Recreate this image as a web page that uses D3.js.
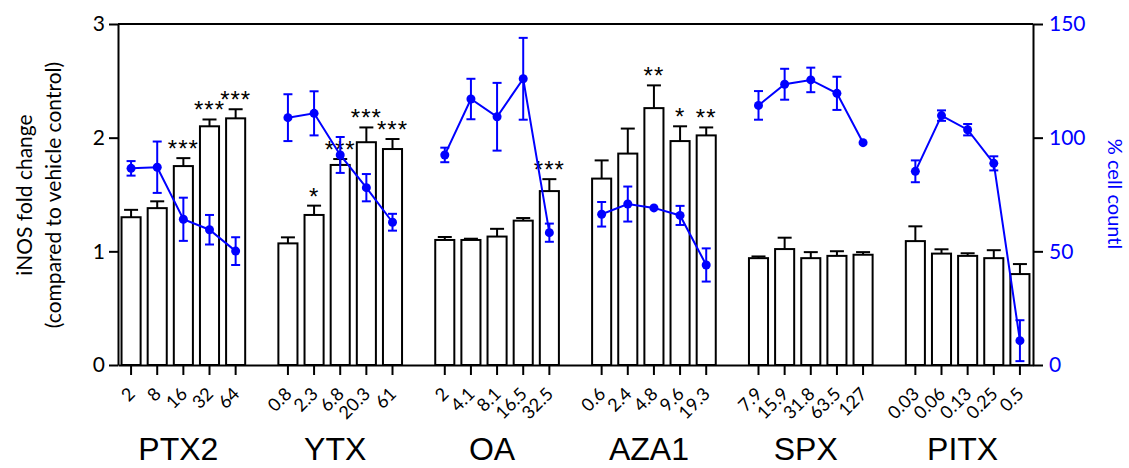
<!DOCTYPE html>
<html><head><meta charset="utf-8">
<script src="https://cdn.jsdelivr.net/npm/d3@7"></script>
<style>body{margin:0;background:#fff}svg{display:block}</style>
</head><body>
<svg id="c" width="1129" height="468"></svg>
<script>
const groups = ["PTX2","YTX","OA","AZA1","SPX","PITX"];
const doses = [["2","8","16","32","64"],["0.8","2.3","6.8","20.3","61"],["2","4.1","8.1","16.5","32.5"],["0.6","2.4","4.8","9.6","19.3"],["7.9","15.9","31.8","63.5","127"],["0.03","0.06","0.13","0.25","0.5"]];
const inos = [[1.30,1.38,1.75,2.10,2.17],[1.07,1.32,1.76,1.96,1.90],[1.10,1.10,1.13,1.27,1.53],[1.64,1.86,2.26,1.97,2.02],[0.94,1.02,0.94,0.96,0.97],[1.09,0.98,0.96,0.94,0.80]];
const inosErr = [[0.065,0.06,0.07,0.06,0.08],[0.053,0.082,0.052,0.13,0.088],[0.026,0.011,0.068,0.023,0.105],[0.16,0.22,0.2,0.13,0.07],[0.015,0.1,0.053,0.041,0.023],[0.13,0.038,0.023,0.07,0.088]];
const stars = [["","","***","***","***"],["","*","***","***","***"],["","","","","***"],["","","**","*","**"],["","","","",""],["","","","",""]];
const cells = [[86.5,87.0,64.1,59.5,50.1],[108.8,110.7,92.4,78.0,62.8],[92.4,117.0,109.2,125.9,58.2],[66.3,70.8,69.1,65.8,44.0],[114.2,123.5,125.4,119.5,97.8],[85.2,109.7,103.5,88.7,10.7]];
const cellsErr = [[3.2,11.3,9.5,6.5,6.1],[10.3,9.7,7.9,6.0,3.7],[3.2,8.9,14.9,18,4],[5.4,7.7,0,4.2,7.3],[6.3,6.8,5.4,7.3,0],[4.8,2.3,2.5,3.1,9]];
const leftTicks = [0,1,2,3];
const rightTicks = [0,50,100,150];

const svg = d3.select("#c");
const L = 118, R = 1033, T = 24, B = 365;
const BLUE = "#0000ff";
const nSlots = groups.length*6 - 1;
const x = d3.scaleBand().domain(d3.range(nSlots)).range([L,R]).paddingInner(0.27).paddingOuter(0.135);
const yL = d3.scaleLinear().domain([0,3]).range([B,T]);
const yR = d3.scaleLinear().domain([0,150]).range([B,T]);

const rows = [];
groups.forEach((g,gi)=>doses[gi].forEach((d,i)=>rows.push({g:gi,i,slot:gi*6+i,dose:d,v:inos[gi][i],e:inosErr[gi][i],s:stars[gi][i],c:cells[gi][i],ce:cellsErr[gi][i]})));
const bw = x.bandwidth();
const cx = d=>x(d.slot)+bw/2;

// bar error bars
const eb = svg.append("g").attr("stroke","#000").attr("stroke-width",2);
rows.forEach(d=>{
  eb.append("line").attr("x1",cx(d)).attr("x2",cx(d)).attr("y1",yL(d.v)).attr("y2",yL(d.v+d.e));
  eb.append("line").attr("x1",cx(d)-7).attr("x2",cx(d)+7).attr("y1",yL(d.v+d.e)).attr("y2",yL(d.v+d.e));
});
// bars
svg.append("g").selectAll("rect").data(rows).join("rect")
  .attr("x",d=>x(d.slot)).attr("width",bw)
  .attr("y",d=>yL(d.v)).attr("height",d=>yL(0)-yL(d.v))
  .attr("fill","#fff").attr("stroke","#000").attr("stroke-width",2);
// stars
svg.append("g").selectAll("text").data(rows.filter(d=>d.s)).join("text")
  .attr("x",d=>cx(d)).attr("y",d=>yL(d.v+d.e)-1)
  .attr("text-anchor","middle").attr("font-family","Liberation Sans").attr("font-size",24)
  .attr("letter-spacing",1).text(d=>d.s);

// frame line
svg.append("line").attr("x1",L).attr("x2",R).attr("y1",T).attr("y2",T).attr("stroke","#000").attr("stroke-width",2);

// axes
const ax = svg.append("g").attr("transform",`translate(${L},0)`).call(d3.axisLeft(yL).tickValues(leftTicks).tickFormat(d3.format("d")).tickSize(9).tickSizeOuter(0).tickPadding(4));
ax.selectAll("text").attr("font-family","Lato").attr("font-size",21).attr("fill","#000");
const ar = svg.append("g").attr("transform",`translate(${R},0)`).call(d3.axisRight(yR).tickValues(rightTicks).tickSize(10).tickSizeOuter(0).tickPadding(6));
ar.selectAll("text").attr("font-family","Lato").attr("font-size",21).attr("fill",BLUE);
const abx = svg.append("g").attr("transform",`translate(0,${B})`).call(d3.axisBottom(x).tickValues(rows.map(d=>d.slot)).tickFormat(s=>rows.find(r=>r.slot===s).dose).tickSize(10).tickSizeOuter(0));
abx.selectAll("text").attr("font-family","Lato").attr("font-size",18).attr("fill","#000")
  .attr("text-anchor","end").attr("dy",0).attr("transform","translate(5,30) rotate(-45)").attr("y",0).attr("x",0);
[ax,ar,abx].forEach(a=>{a.selectAll("path,line").attr("stroke","#000").attr("stroke-width",2);});

// blue series
const line = d3.line().x(cx).y(d=>yR(d.c));
const blue = svg.append("g");
groups.forEach((g,gi)=>{
  const pts = rows.filter(r=>r.g===gi);
  blue.append("path").datum(pts).attr("d",line).attr("fill","none").attr("stroke",BLUE).attr("stroke-width",2);
  pts.forEach(d=>{
    if(d.ce>0){
      blue.append("line").attr("x1",cx(d)).attr("x2",cx(d)).attr("y1",yR(d.c-d.ce)).attr("y2",yR(d.c+d.ce)).attr("stroke",BLUE).attr("stroke-width",2);
      [d.c-d.ce,d.c+d.ce].forEach(v=>blue.append("line").attr("x1",cx(d)-4.5).attr("x2",cx(d)+4.5).attr("y1",yR(v)).attr("y2",yR(v)).attr("stroke",BLUE).attr("stroke-width",2));
    }
    blue.append("circle").attr("cx",cx(d)).attr("cy",yR(d.c)).attr("r",4.5).attr("fill",BLUE);
  });
});

// group labels
svg.append("g").selectAll("text").data(groups).join("text")
  .attr("x",(g,gi)=>x(gi*6+2)+bw/2-5).attr("y",460)
  .attr("text-anchor","middle").attr("font-family","Liberation Sans").attr("font-size",32).text(g=>g);

// axis titles
const lt = svg.append("g").attr("font-family","Lato").attr("font-size",21).attr("text-anchor","middle");
lt.append("text").attr("transform","translate(23,195) rotate(-90)").attr("dominant-baseline","central").text("iNOS fold change");
lt.append("text").attr("transform","translate(52,195) rotate(-90)").attr("dominant-baseline","central").text("(compared to vehicle control)");
svg.append("text").attr("transform","translate(1116,194) rotate(90)").attr("dominant-baseline","central")
  .attr("text-anchor","middle").attr("font-family","Lato").attr("font-size",20).attr("fill",BLUE).text("% cell countl");
</script>
</body></html>
